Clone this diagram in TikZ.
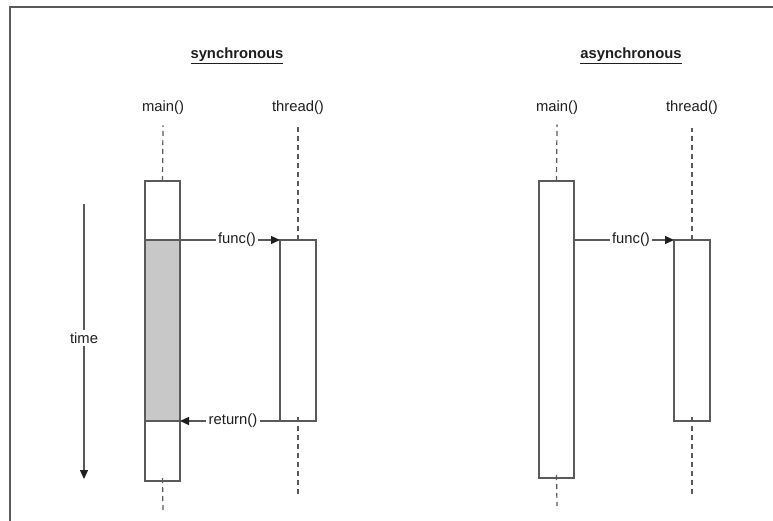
\documentclass[tikz,border=0pt]{standalone}
\usepackage{fontspec}
\setmainfont{Liberation Sans}
\usetikzlibrary{arrows.meta}
\definecolor{linegray}{HTML}{5A5A5A}
\definecolor{boxgray}{HTML}{C8C8C8}
\definecolor{txt}{HTML}{1E1E1E}
\begin{document}
\begin{tikzpicture}[x=1pt,y=-1pt,
  every node/.style={font=\fontsize{14.8}{17}\selectfont, text=txt},
  lifebox/.style={draw=linegray, line width=1.2pt, fill=white, inner sep=0pt, outer sep=0pt, anchor=north},
  busybox/.style={draw=linegray, line width=1.2pt, fill=boxgray, inner sep=0pt, outer sep=0pt, anchor=north},
  dashline/.style={draw=linegray, line width=1.2pt, dash pattern=on 5pt off 4pt},
  callarrow/.style={draw=linegray, line width=1.2pt, -{Triangle[length=9pt,width=8pt,color=txt]}},
  onlabel/.style={fill=white, inner sep=2.5pt},
  title/.style={font=\fontsize{14.8}{17}\selectfont\bfseries}
]
\useasboundingbox (0,0) rectangle (773,521);
% frame
\draw[linegray, line width=1.3pt] (10,521) -- (10,7) -- (773,7);

% titles
\node[title] (tsync) at (237,56) {\underline{synchronous}};
\node[title] (tasync) at (631,56) {\underline{asynchronous}};

% ---------- synchronous ----------
\node (smainlbl) at (163,108) {main()};
\node (sthrlbl) at (298,108) {thread()};

\node[lifebox, minimum width=35pt, minimum height=300pt] (smain) at (162.5,181) {};
\node[busybox, minimum width=35pt, minimum height=181pt] (sgray) at (162.5,240) {};
\node[lifebox, minimum width=36pt, minimum height=181pt] (sthr) at (298,240) {};

\coordinate (smainend) at (163,512);
\coordinate (sthrend) at (298,496);
\draw[dashline] (smain.north) -- ([yshift=-7pt]smainlbl.south);
\draw[dashline] (sthr.north) -- ([yshift=-7pt]sthrlbl.south);
\draw[dashline] ([yshift=3pt]smain.south) -- (smainend);
\draw[dashline] ([yshift=4pt]sthr.south) -- (sthrend);

\draw[callarrow] (sgray.north east) -- node[onlabel, pos=0.57] (sfunc) {func()} (sthr.north west);
\draw[callarrow] (sthr.south west) -- node[onlabel, pos=0.47] (sret) {return()} (sgray.south east);

% time
\coordinate (tstart) at (84,204);
\coordinate (tend) at (84,479);
\draw[callarrow] (tstart) -- (tend);
\node[onlabel] (time) at (84,338) {time};

% ---------- asynchronous ----------
\node (amainlbl) at (557,108) {main()};
\node (athrlbl) at (692,108) {thread()};

\node[lifebox, minimum width=35pt, minimum height=297pt] (amain) at (556.5,181) {};
\node[lifebox, minimum width=36pt, minimum height=181pt] (athr) at (692,240) {};

\coordinate (amainend) at (557,506);
\coordinate (athrend) at (692,496);
\draw[dashline] (amain.north) -- ([yshift=-6pt]amainlbl.south);
\draw[dashline] (athr.north) -- ([yshift=-10pt]athrlbl.south);
\draw[dashline] ([yshift=3pt]amain.south) -- (amainend);
\draw[dashline] ([yshift=4pt]athr.south) -- (athrend);

\draw[callarrow] (amain.east |- athr.north) -- node[onlabel, pos=0.57] (afunc) {func()} (athr.north west);
\end{tikzpicture}
\end{document}
